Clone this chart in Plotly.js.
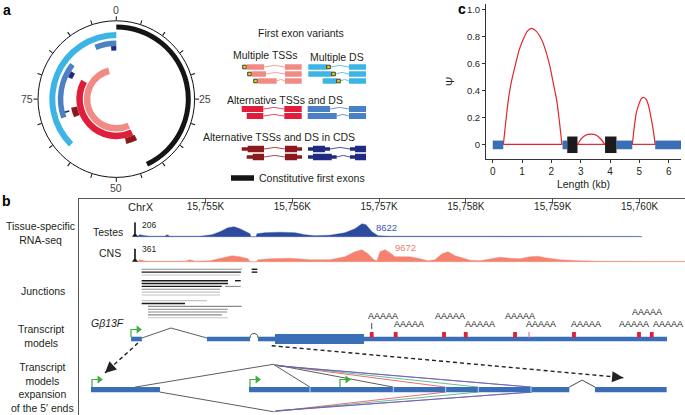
<!DOCTYPE html>
<html>
<head>
<meta charset="utf-8">
<script src="https://cdn.plot.ly/plotly-3.0.1.min.js"></script>
<style>
  html, body { margin: 0; padding: 0; background: #fff; }
  #fig { width: 685px; height: 415px; }
</style>
</head>
<body>
<div id="fig"></div>
<script>
// ---- panel a : first exon variants around the gene circle (0-100) ----
const arcStart = [0, 62.5, 93.9, 69.6, 98.4, 81.8, 70.8, 68.5, 42.5, 43, 43];
const arcEnd   = [43, 100, 100, 85.6, 100, 83.8, 71.3, 72, 46.5, 83, 96];
const arcClass = ['const', 'multiDS', 'altDS', 'altDS', 'cdsDS', 'cdsDS', 'cdsDS',
                  'cdsTSS', 'cdsTSS', 'altTSS', 'multiTSS'];
const circleTicks = [0, 5, 10, 15, 20, 25, 30, 35, 40, 45, 50, 55, 60, 65, 70, 75, 80, 85, 90, 95];
const circleLabels = ['0', '25', '50', '75'];

// legend icons (exon blocks of each variant)
const iconTSSStart = [246.7, 251.7, 257.7];
const iconTSSEnd   = [264, 266, 276.7];
const iconDSStart  = [308.3, 308.3, 322.7];
const iconDSEnd    = [326.7, 331.7, 336.7];
const iconAltTSSStart = [241.7, 246.7];
const iconAltDSEnd    = [330, 336.7];
const iconCdsTSSStart = [241.7, 246.7];
const iconCdsDSEnd    = [330, 336.7];

// ---- panel c : PSI of first exon variants along the gene ----
const psiExonStart = [0, 2.38, 4.22, 5.54];
const psiExonEnd   = [0.36, 2.54, 4.76, 6.43];
const psiAltStart  = [2.54, 3.83];
const psiAltEnd    = [2.89, 4.22];
const arc1X = [0.36, 0.45, 0.53, 0.64, 0.76, 0.9, 1.04, 1.18, 1.33, 1.48, 1.66, 1.8, 1.95, 2.07, 2.18, 2.27, 2.36];
const arc1Y = [0, 0.18, 0.33, 0.47, 0.58, 0.7, 0.78, 0.84, 0.86, 0.84, 0.78, 0.7, 0.58, 0.45, 0.33, 0.18, 0];
const arc2X = [2.89, 3.0, 3.15, 3.35, 3.55, 3.7, 3.83];
const arc2Y = [0, 0.04, 0.07, 0.08, 0.07, 0.04, 0];
const arc3X = [4.76, 4.82, 4.9, 5.0, 5.08, 5.15, 5.22, 5.3, 5.4, 5.48, 5.54];
const arc3Y = [0, 0.12, 0.24, 0.31, 0.345, 0.35, 0.34, 0.3, 0.2, 0.1, 0];
const psiTicksX = [0, 1, 2, 3, 4, 5, 6];
const psiTicksY = [0, 0.2, 0.4, 0.6, 0.8, 1.0];
const psiTickTextY = ['0', '0.2', '0.4', '0.6', '0.8', '1.0'];

// ---- panel b : genome browser (kb on ChrX) ----
const browserTicks = [15755, 15756, 15757, 15758, 15759, 15760];
const browserTickText = ['15,755K', '15,756K', '15,757K', '15,758K', '15,759K', '15,760K'];

const testesKb = [15754.211, 15754.245, 15754.303, 15754.361, 15754.533, 15754.556, 15754.591, 15754.937,
  15755.075, 15755.167, 15755.259, 15755.328, 15755.397, 15755.467, 15755.513, 15755.524, 15755.582,
  15755.593, 15755.685, 15755.858, 15756.031, 15756.146, 15756.262, 15756.434, 15756.607, 15756.722,
  15756.803, 15756.849, 15756.918, 15756.987, 15757.126, 15760.006, 15760.029];
const testesCov = [0, 2, 1, 0.5, 0.5, 2, 0.5, 0.5, 2, 5, 9, 10, 8, 5, 3, 0, 0, 3, 4, 4.5, 4, 2, 1, 1.5,
  4, 8, 13, 12, 5, 1, 0.5, 0.3, 0];
const cnsKb = [15754.211, 15754.245, 15754.315, 15754.764, 15754.821, 15754.879, 15755.052, 15755.190,
  15755.305, 15755.397, 15755.490, 15755.513, 15755.582, 15755.605, 15755.743, 15755.973, 15756.204,
  15756.434, 15756.607, 15756.722, 15756.803, 15756.872, 15756.941, 15756.976, 15757.010, 15757.068,
  15757.126, 15757.183, 15757.356, 15757.471, 15757.563, 15757.644, 15757.725, 15757.794, 15757.875,
  15757.955, 15758.047, 15758.162, 15758.278, 15758.393, 15758.508, 15758.623, 15758.738, 15758.831,
  15758.911, 15759.084, 15759.315, 15759.511, 15760.524];
const cnsCov = [0, 2, 0.5, 0.5, 2, 0.5, 1, 4, 6, 5, 3, 0, 0, 2, 3, 3.5, 2, 2, 5, 10, 12, 8, 2, 1, 10, 12,
  9, 5, 5, 3, 1, 2, 8, 10, 6, 4, 1.5, 1, 3, 4.5, 3.5, 3, 5, 5.5, 4, 2, 1, 0.5, 0.3];
const rangeMarkKb = 15754.188;
const testesMax = '206', testesPeak = '8622', cnsMax = '361', cnsPeak = '9672';

// junction reads: start, end, shade (k = many, g = some, l = few), stacked row
const juncStart = [15754.265, 15755.532, 15754.265, 15755.532, 15754.265, 15754.265, 15755.340, 15754.265,
  15754.265, 15755.225, 15754.265, 15754.265, 15754.265, 15754.265, 15754.265, 15754.338, 15754.338,
  15754.338, 15754.338, 15754.338];
const juncEnd = [15755.417, 15755.597, 15755.409, 15755.597, 15755.397, 15755.259, 15755.406, 15755.259,
  15755.187, 15755.406, 15755.167, 15755.167, 15755.167, 15755.017, 15754.764, 15755.417, 15755.259,
  15755.248, 15755.190, 15755.259];
const juncShade = ['g', 'k', 'k', 'k', 'l', 'k', 'k', 'k', 'k', 'g', 'g', 'l', 'l', 'l', 'k', 'g', 'g', 'g', 'g', 'l'];
const juncRow = [0, 0, 1, 1, 2, 4, 4, 5, 6, 6, 7, 8, 9, 11, 12, 13, 14, 15, 16, 17];

// transcript model of G-beta-13F
const txExonStart = [15754.143, 15755.017, 15755.605, 15755.801, 15756.826];
const txExonEnd   = [15754.268, 15755.513, 15755.801, 15756.826, 15760.317];
const txExonThick = [0, 0, 0, 1, 0];
const txTSS = [15754.142];
const polyAKb = [15756.915, 15757.191, 15757.748, 15757.998, 15758.566, 15758.727, 15759.245, 15759.994, 15760.141];
const polyALabelKb = [15757.045, 15757.344, 15757.817, 15758.162, 15758.623, 15758.865, 15759.384, 15759.937, 15760.086, 15760.328];
const polyALabelLevel = [1, 0, 1, 0, 1, 0, 0, 0, 2, 0];

// expansion of the 5' ends
const expExonStart = [15753.681, 15755.501, 15759.487];
const expExonEnd   = [15754.476, 15759.191, 15760.313];
const expSplit = [15756.204, 15757.164, 15757.767, 15758.143, 15758.750];
const expTSS = [15753.693, 15755.513, 15756.549];
const fanHubKb = 15755.781;
const fanTopFrom = 15754.188, fanBotFrom = 15754.476;
const fanTopTo = [15756.204, 15757.164, 15757.767, 15758.143, 15758.750, 15758.760];
const fanTopColor = ['#333', '#333', '#e4465a', '#3fae74', '#4a62c4', '#7a58a8'];
const fanBotTo = [15757.767, 15758.143, 15758.750, 15758.760];
const fanBotColor = ['#e4465a', '#3fae74', '#4a62c4', '#7a58a8'];

// ------------------------------------------------------------------
const W = 685, H = 415;
const FONT = 'Liberation Sans, Arial, sans-serif';
const TXT = '#231f20';
const classColor = {const: '#151515', multiTSS: '#f28a84', multiDS: '#3cb4e6', altTSS: '#e11d3c',
  altDS: '#4a80c4', cdsTSS: '#8c1a1c', cdsDS: '#1f2a85'};
const ring = {const: [69.5, 5], multiDS: [61, 6], altDS: [53, 5.5], cdsDS: [48.5, 4.5],
  cdsTSS: [40, 6], altTSS: [33.5, 6.5], multiTSS: [26, 6.5]};

const traces = [];
const shapes = [];
const ann = [];
const px = (x) => x / W, py = (y) => 1 - y / H;

// panel a circle
Object.keys(classColor).forEach(function (c) {
  const idx = arcClass.map((k, i) => k === c ? i : -1).filter(i => i >= 0);
  traces.push({
    type: 'barpolar', subplot: 'polar',
    theta: idx.map(i => (arcStart[i] + arcEnd[i]) / 2 * 3.6),
    width: idx.map(i => (arcEnd[i] - arcStart[i]) * 3.6),
    base: idx.map(() => ring[c][0]),
    r: idx.map(() => ring[c][1]),
    marker: {color: classColor[c], line: {width: 0}},
    hoverinfo: 'skip', showlegend: false
  });
});
// circle labels (0, 25, 50, 75) placed just outside the ring
const CX = 116.3, CY = 99.1, RLAB = 89;
circleLabels.forEach(function (t) {
  const a = Number(t) * 3.6 * Math.PI / 180;
  const lx = CX + RLAB * Math.sin(a);
  const ly = CY - RLAB * Math.cos(a);
  ann.push({xref: 'paper', yref: 'paper', x: lx / W, y: 1 - ly / H, text: t, showarrow: false,
    font: {family: FONT, size: 10.5, color: '#444'}, xanchor: 'center', yanchor: 'middle'});
});

// legend icons for panel a (x2/y2 is a plain drawing canvas)
function box(x0, x1, yc, h, color) {
  shapes.push({type: 'rect', xref: 'x2', yref: 'y2', x0: x0, x1: x1, y0: yc - h / 2, y1: yc + h / 2,
    fillcolor: color, line: {width: 0}});
}
function intron(x0, x1, yc, color) {
  traces.push({type: 'scatter', xaxis: 'x2', yaxis: 'y2', mode: 'lines',
    x: [x0, (x0 + x1) / 2, x1], y: [yc, yc - 1.6, yc],
    line: {color: color, width: 0.8}, hoverinfo: 'skip', showlegend: false});
}
function tssMark(x0, yc) {
  shapes.push({type: 'rect', xref: 'x2', yref: 'y2', x0: x0, x1: x0 + 3.6, y0: yc - 1.8, y1: yc + 1.8,
    fillcolor: '#e6d21e', line: {color: '#111', width: 0.8}});
}
const multiRowY = [67, 74, 81], altRowY = [109, 116], cdsRowY = [149, 157];
multiRowY.forEach(function (y, i) {
  tssMark(iconTSSStart[i] - 4, y);
  box(iconTSSStart[i], iconTSSEnd[i], y, 5.5, classColor.multiTSS);
  intron(iconTSSEnd[i], 285, y, classColor.multiTSS);
  box(285, 301.7, y, 5.5, classColor.multiTSS);
  box(iconDSStart[i], iconDSEnd[i], y, 5.5, classColor.multiDS);
  tssMark(iconDSEnd[i], y);
  intron(iconDSEnd[i] + 3.6, 349, y, classColor.multiDS);
  box(349, 366, y, 5.5, classColor.multiDS);
});
altRowY.forEach(function (y, i) {
  box(iconAltTSSStart[i], 263.3, y, 6, classColor.altTSS);
  intron(263.3, 284.3, y, classColor.altTSS);
  box(284.3, 301.7, y, 6, classColor.altTSS);
  box(307.7, iconAltDSEnd[i], y, 6, classColor.altDS);
  intron(iconAltDSEnd[i], 349, y, classColor.altDS);
  box(349, 366, y, 6, classColor.altDS);
});
cdsRowY.forEach(function (y, i) {
  box(iconCdsTSSStart[i], 264, y, 3.5, classColor.cdsTSS);
  box(iconCdsTSSStart[i] + 6, 264, y, 6.5, classColor.cdsTSS);
  intron(264, 285, y, classColor.cdsTSS);
  box(285, 302, y, 3.5, classColor.cdsTSS);
  box(285, 297, y, 6.5, classColor.cdsTSS);
  box(308, iconCdsDSEnd[i], y, 3.5, classColor.cdsDS);
  box(313, iconCdsDSEnd[i] - 5, y, 6.5, classColor.cdsDS);
  intron(iconCdsDSEnd[i], 350, y, classColor.cdsDS);
  box(350, 366, y, 3.5, classColor.cdsDS);
  box(355, 366, y, 6.5, classColor.cdsDS);
});
box(231, 254, 178, 5.5, classColor.const);

// panel c
psiExonStart.forEach(function (s, i) {
  shapes.push({type: 'rect', xref: 'x4', yref: 'y4', x0: s, x1: psiExonEnd[i], y0: -0.032, y1: 0.032,
    fillcolor: '#3a6fb8', line: {width: 0}});
});
psiAltStart.forEach(function (s, i) {
  shapes.push({type: 'rect', xref: 'x4', yref: 'y4', x0: s, x1: psiAltEnd[i], y0: -0.06, y1: 0.062,
    fillcolor: '#1b1b1b', line: {width: 0}});
});
[[arc1X, arc1Y], [arc2X, arc2Y], [arc3X, arc3Y]].forEach(function (a) {
  const xs = a[0], ys = a[1];
  traces.push({type: 'scatter', xaxis: 'x4', yaxis: 'y4', mode: 'lines',
    x: xs.concat([null, xs[0], xs[xs.length - 1]]),
    y: ys.concat([null, 0.004, 0.004]),
    line: {color: '#e2262c', width: 1.2, shape: 'spline', smoothing: 0.6},
    hoverinfo: 'skip', showlegend: false});
});

// panel b tracks (y3 in rows below the top frame line)
const TESTES_BASE = 37.7, CNS_BASE = 62.7, JUNC_TOP = 70.3, JUNC_STEP = 2.85, TX_ROW = 140, EXP_ROW = 190.6;

function coverage(kb, cov, base, color) {
  traces.push({type: 'scatter', xaxis: 'x3', yaxis: 'y3', mode: 'lines', fill: 'toself',
    x: kb.concat([kb[kb.length - 1], kb[0]]),
    y: cov.map(v => base - v).concat([base, base]),
    fillcolor: color, line: {width: 0.4, color: color}, hoverinfo: 'skip', showlegend: false});
}
coverage(testesKb, testesCov, TESTES_BASE, '#2c4a9e');
coverage(cnsKb, cnsCov, CNS_BASE, '#f4826f');
[[TESTES_BASE, 14], [CNS_BASE, 12.7]].forEach(function (t) {
  traces.push({type: 'scatter', xaxis: 'x3', yaxis: 'y3', mode: 'lines', fill: 'toself',
    x: [rangeMarkKb - 0.03, rangeMarkKb - 0.006, rangeMarkKb - 0.006, rangeMarkKb + 0.006, rangeMarkKb + 0.006, rangeMarkKb + 0.03],
    y: [t[0], t[0] - 3, t[0] - t[1], t[0] - t[1], t[0] - 3, t[0]],
    fillcolor: '#111', line: {width: 0.6, color: '#111'}, hoverinfo: 'skip', showlegend: false});
});

// junctions
const shadeStyle = {k: ['#1a1a1a', 1.4], g: ['#8a8a8a', 1.1], l: ['#c4c4c4', 1.1]};
Object.keys(shadeStyle).forEach(function (s) {
  const xs = [], ys = [];
  juncStart.forEach(function (st, i) {
    if (juncShade[i] !== s) return;
    const y = JUNC_TOP + juncRow[i] * JUNC_STEP;
    xs.push(st, juncEnd[i], null); ys.push(y, y, null);
  });
  traces.push({type: 'scatter', xaxis: 'x3', yaxis: 'y3', mode: 'lines', x: xs, y: ys,
    line: {color: shadeStyle[s][0], width: shadeStyle[s][1]}, hoverinfo: 'skip', showlegend: false});
});

// transcript model
txExonStart.forEach(function (s, i) {
  const h = txExonThick[i] ? 10 : 4.6;
  shapes.push({type: 'rect', xref: 'x3', yref: 'y3', x0: s, x1: txExonEnd[i], y0: TX_ROW - h / 2, y1: TX_ROW + h / 2,
    fillcolor: '#3a6fb8', line: {width: 0}});
});
traces.push({type: 'scatter', xaxis: 'x3', yaxis: 'y3', mode: 'lines',
  x: [txExonEnd[0], (txExonEnd[0] + txExonStart[1]) / 2 - 0.04, txExonStart[1], null,
      txExonEnd[1], txExonEnd[1] + 0.005, txExonEnd[1] + 0.02, (txExonEnd[1] + txExonStart[2]) / 2,
      txExonStart[2] - 0.02, txExonStart[2] - 0.005, txExonStart[2]],
  y: [TX_ROW - 1, TX_ROW - 11, TX_ROW - 1, null, TX_ROW - 1, TX_ROW - 3.5, TX_ROW - 5, TX_ROW - 5.6, TX_ROW - 5, TX_ROW - 3.5, TX_ROW - 1],
  line: {color: '#333', width: 0.8}, hoverinfo: 'skip', showlegend: false});
polyAKb.forEach(function (k, i) {
  const w = i === 5 ? 0.008 : 0.022;
  shapes.push({type: 'rect', xref: 'x3', yref: 'y3', x0: k - w, x1: k + w, y0: TX_ROW - 7, y1: TX_ROW - 1.5,
    fillcolor: i === 5 ? '#f08a94' : '#e0203a', line: {width: 0}});
});
traces.push({type: 'scatter', xaxis: 'x3', yaxis: 'y3', mode: 'lines',
  x: [polyAKb[0], polyAKb[0]], y: [TX_ROW - 16, TX_ROW - 10],
  line: {color: '#333', width: 0.9}, hoverinfo: 'skip', showlegend: false});
const levelRow = [TX_ROW - 15, TX_ROW - 23, TX_ROW - 27];
polyALabelKb.forEach(function (k, i) {
  ann.push({xref: 'x3', yref: 'y3', x: k, y: levelRow[polyALabelLevel[i]], text: 'AAAAA', showarrow: false,
    font: {family: FONT, size: 9, color: TXT}, xanchor: 'center', yanchor: 'middle'});
});

// 5' expansion
expExonStart.forEach(function (s, i) {
  shapes.push({type: 'rect', xref: 'x3', yref: 'y3', x0: s, x1: expExonEnd[i], y0: EXP_ROW - 2.6, y1: EXP_ROW + 2.6,
    fillcolor: '#3a6fb8', line: {width: 0}});
});
expSplit.forEach(function (k) {
  shapes.push({type: 'line', xref: 'x3', yref: 'y3', x0: k, x1: k, y0: EXP_ROW - 2.6, y1: EXP_ROW + 2.6,
    line: {color: '#b9d6f2', width: 1}});
});
traces.push({type: 'scatter', xaxis: 'x3', yaxis: 'y3', mode: 'lines',
  x: [expExonEnd[1], (expExonEnd[1] + expExonStart[2]) / 2, expExonStart[2]],
  y: [EXP_ROW - 2.5, EXP_ROW - 9.5, EXP_ROW - 2.5],
  line: {color: '#333', width: 0.9}, hoverinfo: 'skip', showlegend: false});
const HUB_TOP = 165.3, HUB_BOT = 212.7;
traces.push({type: 'scatter', xaxis: 'x3', yaxis: 'y3', mode: 'lines',
  x: [fanTopFrom, fanHubKb, null, fanBotFrom, fanHubKb],
  y: [EXP_ROW - 2.5, HUB_TOP, null, EXP_ROW + 2.5, HUB_BOT],
  line: {color: '#333', width: 0.8}, hoverinfo: 'skip', showlegend: false});
fanTopTo.forEach(function (k, i) {
  traces.push({type: 'scatter', xaxis: 'x3', yaxis: 'y3', mode: 'lines',
    x: [fanHubKb + i * 0.012, k], y: [HUB_TOP + i * 0.35, EXP_ROW - 2.5],
    line: {color: fanTopColor[i], width: 0.8}, hoverinfo: 'skip', showlegend: false});
});
fanBotTo.forEach(function (k, i) {
  traces.push({type: 'scatter', xaxis: 'x3', yaxis: 'y3', mode: 'lines',
    x: [fanHubKb + i * 0.012, k], y: [HUB_BOT - i * 0.35, EXP_ROW + 2.5],
    line: {color: fanBotColor[i], width: 0.8}, hoverinfo: 'skip', showlegend: false});
});

// TSS arrows (green)
function tssArrows(list, row) {
  const xs = [], ys = [], mx = [], my = [];
  list.forEach(function (k) {
    xs.push(k, k, k + 0.07, null); ys.push(row, row - 7.5, row - 7.5, null);
    mx.push(k + 0.085); my.push(row - 7.5);
  });
  traces.push({type: 'scatter', xaxis: 'x3', yaxis: 'y3', mode: 'lines', x: xs, y: ys,
    line: {color: '#3cae3c', width: 1.2}, hoverinfo: 'skip', showlegend: false});
  traces.push({type: 'scatter', xaxis: 'x3', yaxis: 'y3', mode: 'markers', x: mx, y: my,
    marker: {symbol: 'triangle-right', size: 7, color: '#3cae3c'}, hoverinfo: 'skip', showlegend: false});
}
tssArrows(txTSS, TX_ROW - 2);
tssArrows(expTSS, EXP_ROW - 2.6);

// dashed guide arrows
const arrowFrom = [[15754.222, 144], [15755.763, 146.7]];
const arrowTo = [[15753.842, 174], [15759.813, 178.7]];
const arrowTail = [[5.9, -5.4], [-8, -0.7]];
arrowFrom.forEach(function (f, i) {
  traces.push({type: 'scatter', xaxis: 'x3', yaxis: 'y3', mode: 'lines',
    x: [f[0], arrowTo[i][0]], y: [f[1], arrowTo[i][1]],
    line: {color: '#222', width: 1.4, dash: '4px,3px'}, hoverinfo: 'skip', showlegend: false});
  ann.push({xref: 'x3', yref: 'y3', x: arrowTo[i][0], y: arrowTo[i][1], ax: arrowTail[i][0], ay: arrowTail[i][1],
    showarrow: true, arrowhead: 2, arrowsize: 1.6, arrowwidth: 1.4, arrowcolor: '#222', text: ''});
});

// text
function label(x, y, text, opts) {
  ann.push(Object.assign({xref: 'paper', yref: 'paper', x: px(x), y: py(y), text: text, showarrow: false,
    font: {family: FONT, size: 10.5, color: TXT}, xanchor: 'center', yanchor: 'middle'}, opts || {}));
}
label(7, 10, '<b>a</b>', {font: {family: FONT, size: 14, color: '#000'}});
label(6, 201, '<b>b</b>', {font: {family: FONT, size: 14, color: '#000'}});
label(462, 9, '<b>c</b>', {font: {family: FONT, size: 14, color: '#000'}});
label(301, 33, 'First exon variants');
label(265, 55, 'Multiple TSSs');
label(337, 57, 'Multiple DS');
label(285, 100, 'Alternative TSSs and DS');
label(279, 137, 'Alternative TSSs and DS in CDS');
label(257, 178, 'Constitutive first exons', {xanchor: 'left'});
label(40, 233, 'Tissue-specific<br>RNA-seq');
label(43, 291, 'Junctions');
label(41, 336, 'Transcript<br>models');
label(42, 387, 'Transcript<br>models<br>expansion<br>of the 5\u2032 ends');
label(108, 232, 'Testes');
label(110, 253, 'CNS');
label(141, 207, 'ChrX', {font: {family: FONT, size: 11, color: TXT}});
label(107, 323, '<i>G\u03b213F</i>');
ann.push({xref: 'x3', yref: 'y3', x: rangeMarkKb + 0.06, y: TESTES_BASE - 12, text: testesMax, showarrow: false,
  xanchor: 'left', font: {family: FONT, size: 8.5, color: TXT}});
ann.push({xref: 'x3', yref: 'y3', x: rangeMarkKb + 0.06, y: CNS_BASE - 12.5, text: cnsMax, showarrow: false,
  xanchor: 'left', font: {family: FONT, size: 8.5, color: TXT}});
ann.push({xref: 'x3', yref: 'y3', x: 15757.09, y: TESTES_BASE - 9.5, text: testesPeak, showarrow: false,
  xanchor: 'center', font: {family: FONT, size: 9.5, color: '#3a57b0'}});
ann.push({xref: 'x3', yref: 'y3', x: 15757.3, y: CNS_BASE - 14.5, text: cnsPeak, showarrow: false,
  xanchor: 'center', font: {family: FONT, size: 9.5, color: '#f0806c'}});

const layout = {
  width: W, height: H, margin: {l: 0, r: 0, t: 0, b: 0},
  paper_bgcolor: '#fff', plot_bgcolor: 'rgba(0,0,0,0)',
  font: {family: FONT, color: TXT, size: 10.5},
  showlegend: false,
  polar: {
    domain: {x: [38 / W, 194.6 / W], y: [py(177.6), py(20.6)]},
    bgcolor: 'rgba(0,0,0,0)', barmode: 'overlay', hole: 0,
    radialaxis: {visible: false, range: [0, 78.3]},
    angularaxis: {rotation: 90, direction: 'clockwise', tickmode: 'array',
      tickvals: circleTicks.map(v => v * 3.6), showticklabels: false,
      ticks: 'outside', ticklen: 4, tickwidth: 1, tickcolor: '#111',
      linecolor: '#111', linewidth: 1, showgrid: false}
  },
  xaxis2: {domain: [0, 1], range: [0, W], visible: false, fixedrange: true},
  yaxis2: {domain: [0, 1], range: [H, 0], visible: false, fixedrange: true},
  xaxis3: {domain: [79 / W, 1], range: [15753.543, 15760.524], side: 'top', anchor: 'y3',
    tickmode: 'array', tickvals: browserTicks, ticktext: browserTickText,
    ticks: 'inside', ticklen: 3, tickcolor: '#555', ticklabelposition: 'inside',
    showline: true, linecolor: '#555', linewidth: 1, showgrid: false, zeroline: false,
    tickfont: {family: FONT, size: 10, color: TXT}},
  yaxis3: {domain: [0, py(199)], range: [216, 0], anchor: 'x3', showline: true, linecolor: '#555',
    linewidth: 1, showticklabels: false, ticks: '', showgrid: false, zeroline: false},
  xaxis4: {domain: [486 / W, 681 / W], range: [-0.23, 6.42], anchor: 'y4',
    tickmode: 'array', tickvals: psiTicksX, ticks: 'outside', ticklen: 3, tickcolor: '#333',
    showline: true, linecolor: '#333', linewidth: 1, showgrid: false, zeroline: false,
    tickfont: {family: FONT, size: 10, color: TXT},
    title: {text: 'Length (kb)', font: {family: FONT, size: 10.5, color: TXT}, standoff: 4}},
  yaxis4: {domain: [py(159), py(4)], range: [-0.104, 1.04], anchor: 'x4',
    tickmode: 'array', tickvals: psiTicksY, ticktext: psiTickTextY, ticks: 'outside', ticklen: 3,
    tickcolor: '#333', showline: true, linecolor: '#333', linewidth: 1, showgrid: false, zeroline: false,
    tickfont: {family: FONT, size: 9.5, color: TXT},
    title: {text: '\u03a8', font: {family: FONT, size: 11, color: TXT}, standoff: 10}},
  shapes: shapes,
  annotations: ann
};

Plotly.newPlot('fig', traces, layout, {staticPlot: true, displayModeBar: false});
</script>
</body>
</html>
